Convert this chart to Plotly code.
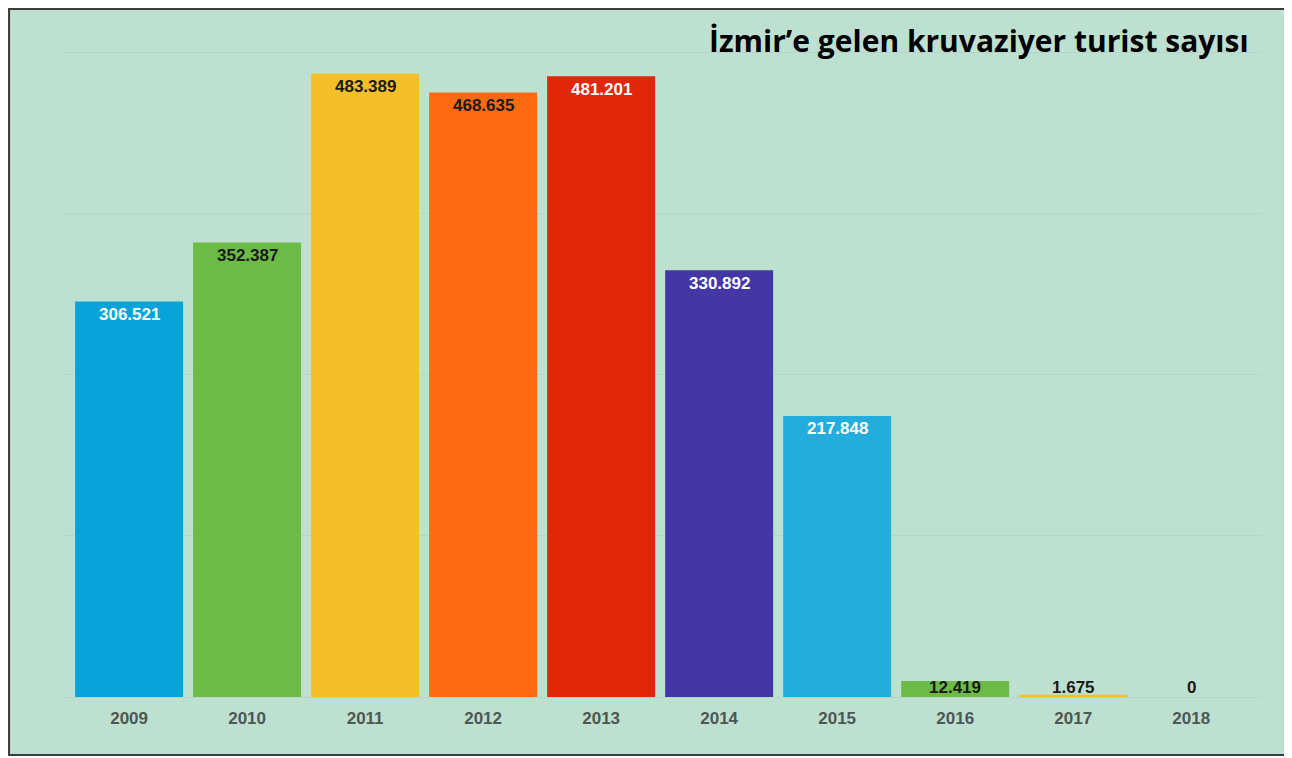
import plotly.graph_objects as go

years = ["2009", "2010", "2011", "2012", "2013", "2014", "2015", "2016", "2017", "2018"]
values = [306521, 352387, 483389, 468635, 481201, 330892, 217848, 12419, 1675, 0]
labels = ["306.521", "352.387", "483.389", "468.635", "481.201", "330.892", "217.848", "12.419", "1.675", "0"]
bar_colors = ["#05A3D9", "#6DBB47", "#F4BF27", "#FE6A0F", "#E2260A", "#4437A5", "#22ADDD", "#6DBB47", "#F4BF27", "#BDE0D1"]
label_colors = ["#FFFFFF", "#1A1A1A", "#1A1A1A", "#1A1A1A", "#FFFFFF", "#FFFFFF", "#FFFFFF", "#1A1A1A", "#1A1A1A", "#1A1A1A"]
y_ticks = [0, 125000, 250000, 375000, 500000]
title_text = "İzmir’e gelen kruvaziyer turist sayısı"

fig = go.Figure()
fig.add_trace(go.Bar(
    x=list(range(len(years))), y=values, marker=dict(color=bar_colors, line=dict(width=0)),
    width=0.915, hoverinfo="skip", showlegend=False,
))

for i, (v, lab, c) in enumerate(zip(values, labels, label_colors)):
    big = v > 50000
    fig.add_annotation(
        x=i, y=v if big else 0, yshift=-13 if big else 10,
        text="<b>" + lab + "</b>", showarrow=False, yanchor="middle",
        font=dict(family="Liberation Sans, Arial", size=17, color=c),
    )

# frame
fig.add_shape(type="rect", xref="paper", yref="paper",
              x0=-0.045, x1=1.0217, y0=-0.0883, y1=1.0472,
              fillcolor="#BDE0D1", line=dict(color="#3C3C3C", width=2), layer="below")

fig.add_annotation(
    xref="paper", yref="paper", x=0.9908, y=1.0, xanchor="right", yanchor="middle",
    text="<b>" + title_text + "</b>", showarrow=False,
    font=dict(family="Open Sans", size=30, color="#000000"),
)

fig.update_layout(
    width=1292, height=758,
    margin=dict(l=55, r=38, t=32, b=69),
    paper_bgcolor="#FFFFFF", plot_bgcolor="rgba(0,0,0,0)",
    xaxis=dict(
        range=[-0.56, 9.6], tickmode="array", tickvals=list(range(len(years))),
        ticktext=["<b>" + y + "</b>" for y in years], showgrid=False, zeroline=False,
        showline=False, ticks="", ticklabelstandoff=9,
        tickfont=dict(family="Liberation Sans, Arial", size=17, color="#4D5753"),
    ),
    yaxis=dict(
        range=[0, 509300], tickvals=y_ticks, showticklabels=False, showgrid=True,
        gridcolor="#B3D6C6", gridwidth=1, zeroline=True, zerolinecolor="#B3D6C6", zerolinewidth=1,
        showline=False, ticks="",
    ),
)

fig.write_html("out.html")
